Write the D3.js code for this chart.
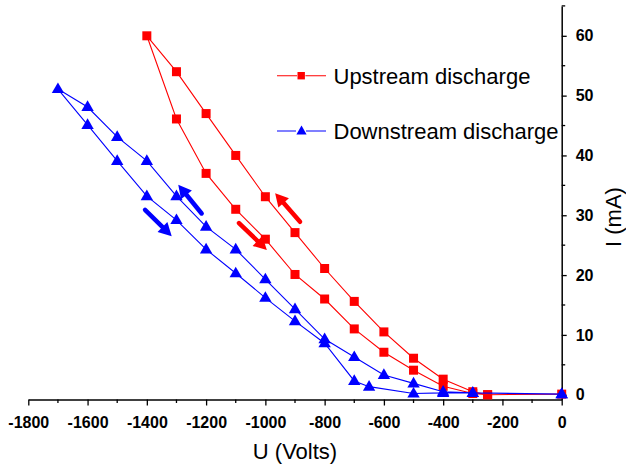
<!DOCTYPE html>
<html>
<head>
<meta charset="utf-8">
<style>
  body { margin: 0; background: #fff; }
  svg text { font-family: Arial, "Liberation Sans", sans-serif; }
  .tick text { font-weight: bold; font-size: 16px; }
</style>
<script src="https://d3js.org/d3.v7.min.js"></script>
</head>
<body>
<script>

    // Upstream discharge (red squares): rising branch then falling branch
    var upU = [0, -250, -300, -400, -500, -600, -700, -800, -900, -1000, -1100, -1200, -1300, -1400,
               -1300, -1200, -1100, -1000, -900, -800, -700, -600, -500, -400, -300, -250];
    var upI = [0.1, 0, 0.5, 2.6, 6.1, 10.5, 15.6, 21.1, 27.1, 33.1, 40.0, 47.0, 54.0, 60.0,
               46.1, 37.0, 31.0, 26.0, 20.1, 16.0, 11.0, 7.1, 4.1, 1.4, 0.2, 0];

    // Downstream discharge (blue triangles)
    var dnU = [0, -300, -400, -500, -600, -700, -800, -900, -1000, -1100, -1200, -1300, -1400, -1500, -1600, -1700,
               -1600, -1500, -1400, -1300, -1200, -1100, -1000, -900, -800, -700, -650, -500, -400, -300, 0];
    var dnI = [0.1, 0.3, 0.5, 1.9, 3.3, 6.3, 9.3, 14.3, 19.3, 24.3, 28.1, 33.2, 39.1, 43.1, 48.1, 51.1,
               45.1, 39.1, 33.2, 29.2, 24.3, 20.3, 16.2, 12.3, 8.6, 2.3, 1.35, 0.2, 0.3, 0.3, 0.1];

    // direction arrows: [u tail, I tail, u tip, I tip]
    var redArrows  = [[-883, 28.9, -967, 33.7], [-1089, 28.7, -995, 24.2]];
    var blueArrows = [[-1215, 30.3, -1294, 35.1], [-1406, 30.9, -1316, 26.5]];

    var xTicks = [-1800, -1600, -1400, -1200, -1000, -800, -600, -400, -200, 0];
    var yTicks = [0, 10, 20, 30, 40, 50, 60];

    var width = 626, height = 467;
    var red = "#ff0000", blue = "#0000ff";

    var x = d3.scaleLinear().domain([-1800, 0]).range([28.3, 561.7]);
    var y = d3.scaleLinear().domain([-0.8, 65]).range([399.5, 5.9]);

    var svg = d3.select("body").append("svg")
        .attr("width", width)
        .attr("height", height);

    // bottom axis
    var xAxis = svg.append("g")
        .attr("transform", "translate(0," + y(-0.8) + ")")
        .call(d3.axisBottom(x).tickValues(xTicks).tickFormat(d3.format("d")).tickSize(6).tickPadding(11).tickSizeOuter(0));
    xAxis.selectAll(".tick text").text(function(d) { return d; });
    xAxis.selectAll(".tick line").attr("stroke-width", 1.3);
    xAxis.select(".domain").attr("stroke-width", 1.5);
    xAxis.append("g").selectAll("line")
        .data(d3.range(-1700, 0, 200))
        .enter().append("line")
        .attr("x1", function(d) { return x(d); }).attr("x2", function(d) { return x(d); })
        .attr("y1", 0).attr("y2", 3.5)
        .attr("stroke", "black").attr("stroke-width", 1.3);

    // right axis
    var yAxis = svg.append("g")
        .attr("transform", "translate(" + x(0) + ",0)")
        .call(d3.axisRight(y).tickValues(yTicks).tickSize(5).tickPadding(9).tickSizeOuter(0));
    yAxis.selectAll(".tick text").attr("fill", "black");
    yAxis.selectAll(".tick line").attr("stroke-width", 1.3);
    yAxis.select(".domain").attr("stroke-width", 1.5);
    yAxis.append("g").selectAll("line")
        .data([5, 15, 25, 35, 45, 55, 65])
        .enter().append("line")
        .attr("x1", 0).attr("x2", 3.5)
        .attr("y1", function(d) { return y(d); }).attr("y2", function(d) { return y(d); })
        .attr("stroke", "black").attr("stroke-width", 1.3);

    // axis titles
    svg.append("text")
        .attr("x", 295).attr("y", 459)
        .attr("text-anchor", "middle")
        .attr("font-size", 22)
        .text("U (Volts)");
    svg.append("text")
        .attr("transform", "translate(621,217) rotate(-90)")
        .attr("text-anchor", "middle")
        .attr("font-size", 22)
        .text("I (mA)");

    var line = d3.line()
        .x(function(d) { return x(d[0]); })
        .y(function(d) { return y(d[1]); });

    var tri = d3.symbol().type(d3.symbolTriangle).size(66);

    function drawSeries(us, is, color, marker) {
        var pts = us.map(function(u, i) { return [u, is[i]]; });
        svg.append("path")
            .attr("d", line(pts))
            .attr("fill", "none")
            .attr("stroke", color)
            .attr("stroke-width", 1.1);
        var g = svg.append("g");
        if (marker === "square") {
            g.selectAll("rect").data(pts).enter().append("rect")
                .attr("x", function(d) { return x(d[0]) - 4.5; })
                .attr("y", function(d) { return y(d[1]) - 4.5; })
                .attr("width", 9).attr("height", 9)
                .attr("fill", color);
        } else {
            g.selectAll("path").data(pts).enter().append("path")
                .attr("d", tri)
                .attr("transform", function(d) { return "translate(" + x(d[0]) + "," + (y(d[1]) + 0.5) + ")"; })
                .attr("fill", color);
        }
    }

    drawSeries(upU, upI, red, "square");
    drawSeries(dnU, dnI, blue, "triangle");

    function drawArrows(list, color) {
        list.forEach(function(a) {
            var x0 = x(a[0]), y0 = y(a[1]), x1 = x(a[2]), y1 = y(a[3]);
            var dx = x1 - x0, dy = y1 - y0, len = Math.sqrt(dx * dx + dy * dy);
            var ux = dx / len, uy = dy / len;
            var hl = 13, hw = 7;
            var bx = x1 - ux * hl, by = y1 - uy * hl;
            svg.append("line")
                .attr("x1", x0).attr("y1", y0).attr("x2", bx + ux * 2).attr("y2", by + uy * 2)
                .attr("stroke", color).attr("stroke-width", 4.5).attr("stroke-linecap", "round");
            svg.append("path")
                .attr("d", "M" + x1 + "," + y1 +
                    "L" + (bx - uy * hw) + "," + (by + ux * hw) +
                    "L" + (bx + uy * hw) + "," + (by - ux * hw) + "Z")
                .attr("fill", color);
        });
    }

    drawArrows(redArrows, red);
    drawArrows(blueArrows, blue);

    // legend
    var legend = [
        { name: "Upstream discharge", color: red, marker: "square", y: 75.7 },
        { name: "Downstream discharge", color: blue, marker: "triangle", y: 131 }
    ];
    var lg = svg.append("g");
    legend.forEach(function(l) {
        lg.append("line")
            .attr("x1", 277).attr("x2", 326).attr("y1", l.y).attr("y2", l.y)
            .attr("stroke", l.color).attr("stroke-width", 1.1);
        if (l.marker === "square") {
            lg.append("rect").attr("x", 297).attr("y", l.y - 4.2).attr("width", 8.4).attr("height", 8.4)
                .attr("fill", "white");
            lg.append("rect").attr("x", 297.5).attr("y", l.y - 3.7).attr("width", 7.4).attr("height", 7.4)
                .attr("fill", l.color);
        } else {
            lg.append("rect").attr("x", 296).attr("y", l.y - 5).attr("width", 10).attr("height", 10)
                .attr("fill", "white");
            lg.append("path").attr("d", d3.symbol().type(d3.symbolTriangle).size(45))
                .attr("transform", "translate(301.5," + (l.y + 0.5) + ")")
                .attr("fill", l.color);
        }
        lg.append("text")
            .attr("x", 333.5).attr("y", l.y + 7.8)
            .attr("font-size", 22)
            .text(l.name);
    });

</script>
</body>
</html>
